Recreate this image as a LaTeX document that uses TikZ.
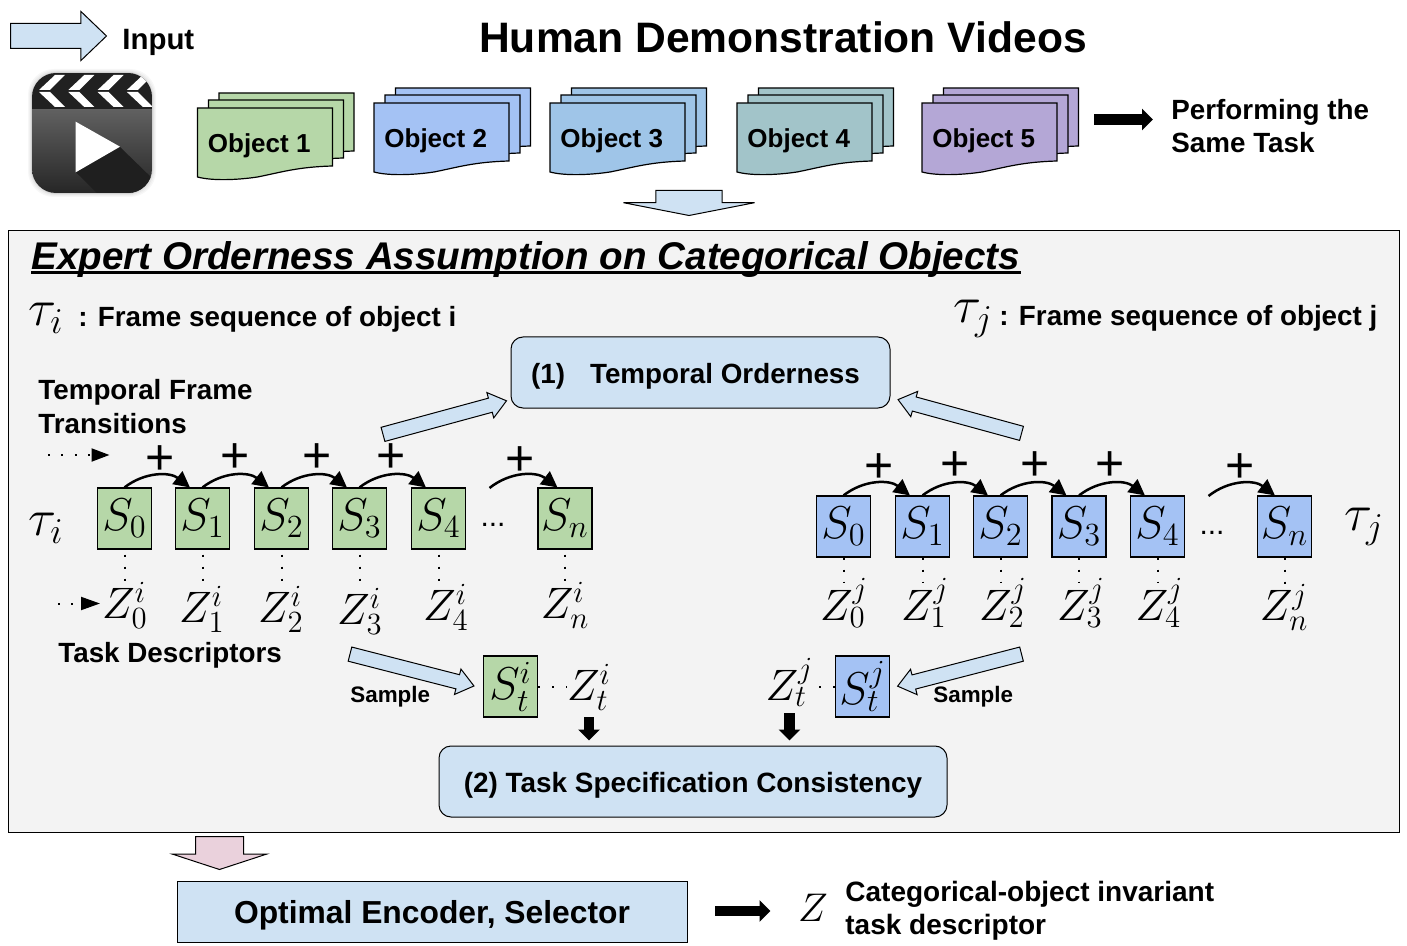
\documentclass[tikz,border=0pt]{standalone}
\usepackage{fix-cm}
\usepackage[no-math]{fontspec}
\setmainfont{Liberation Sans}
\usetikzlibrary{shapes.arrows, arrows.meta, positioning, calc}
\definecolor{objgreen}{RGB}{182, 215, 168}
\definecolor{objblue}{RGB}{164, 194, 244}
\definecolor{objsky}{RGB}{159, 197, 232}
\definecolor{objteal}{RGB}{162, 196, 201}
\definecolor{objpurple}{RGB}{180, 167, 214}
\definecolor{lightfill}{RGB}{207, 226, 243}
\definecolor{pinkfill}{RGB}{234, 209, 220}
\definecolor{panelgray}{RGB}{243, 243, 243}
\newcommand{\fs}[1]{\fontsize{#1}{#1}\selectfont}
\tikzset{
  label14/.style={font=\fs{13.9}\bfseries, inner sep=0pt, anchor=base west},
  blockarrow/.style n args={4}{single arrow, draw=black, line width=0.5pt, fill=lightfill,
    inner xsep=0pt, inner ysep=#1, single arrow head extend=#2, single arrow tip angle=#3,
    single arrow head indent=0pt, minimum height=#4, anchor=tail},
  fatarrow/.style={line width=5.4pt, -{Triangle[length=5.5pt,width=10.5pt]}},
  statebox/.style={draw=black, line width=0.55pt, minimum width=27pt, minimum height=30.5pt,
    inner sep=0pt, font=\fs{23}},
  descr/.style={font=\fs{22}, inner sep=0pt, anchor=base},
  taulabel/.style={font=\fs{26}, inner sep=0pt},
  dotlink/.style={line width=1pt, dash pattern=on 1pt off 5pt},
  transarc/.style={line width=1.25pt, -{Triangle[length=8pt,width=8pt]}, bend left=38},
  plussign/.style={font=\fs{25}, inner sep=0pt},
  sheet/.style={draw=black, line width=0.6pt},
  bigbox/.style={draw=black, line width=0.5pt, fill=lightfill, rounded corners=6pt, inner sep=0pt, text height=11pt, text depth=0pt, minimum height=35.5pt},
}
\begin{document}
\begin{tikzpicture}[x=0.5pt, y=-0.5pt]
  \useasboundingbox (0, 0) rectangle (1407, 946);

  % Input legend
  \node[blockarrow={6pt}{6pt}{87.6}{48pt}] (inputarrow) at (10, 36) {};
  \node[label14, font=\fs{14.7}\bfseries] (inputlabel) at (122, 50) {Input};
  \node[font=\fs{21.3}\bfseries, inner sep=0pt, anchor=base] (title) at (783, 53) {Human Demonstration Videos};

  % Video icon
  \foreach \d/\g in {4/3, 3/6, 2/10, 1/18} {
    \fill[black!\g, rounded corners=13pt] (32-\d, 73-\d) rectangle (152+\d, 193+\d);
  }
  \begin{scope}
    \clip[rounded corners=12pt] (32, 73) rectangle (152, 193);
    \shade[top color=black!62, bottom color=black!85] (32, 109) rectangle (152, 193);
    \fill[black!87] (32, 73) rectangle (152, 109);
    \foreach \dx in {0, 29.3, 58.6, 87.9} {
      \fill[white] (55+\dx, 75) -- (65+\dx, 75) -- (50+\dx, 90) -- (39+\dx, 90) -- cycle;
      \fill[white] (39+\dx, 92) -- (50+\dx, 92) -- (65+\dx, 107) -- (55+\dx, 107) -- cycle;
    }
    \fill[black!88] (120, 147) -- (156, 182) -- (156, 196) -- (100, 196) -- (75.7, 172) -- cycle;
  \end{scope}
  \fill[white] (75.7, 121.7) -- (120, 146.7) -- (75.7, 172.3) -- cycle;

  % Object stacks
  \foreach \n/\x/\y/\col in {1/197.5/108/objgreen, 2/374/103/objblue, 3/550/103/objsky, 4/737/103/objteal, 5/922/103/objpurple} {
    \foreach \dx/\dy in {21.5/-15, 11/-8, 0/0} {
      \begin{scope}[shift={(\x+\dx, \y+\dy)}]
        \draw[sheet, fill=\col] (0, 0) -- (135, 0) -- (135, 58) .. controls (100, 59) and (85, 64) .. (60, 69)
          .. controls (40, 72) and (15, 73) .. (0, 69) -- cycle;
      \end{scope}
    }
    \node[font=\fs{13}\bfseries, inner sep=0pt, anchor=base west] (object\n) at (\x+10, \y+45) {Object \n};
  }

  % Same task note
  \coordinate (samestart) at (1094, 119.5);
  \coordinate (sameend) at (1153, 119.5);
  \draw[fatarrow] (samestart) -- (sameend);
  \node[label14] (sametask1) at (1171, 120) {Performing the};
  \node[label14] (sametask2) at (1171, 153) {Same Task};
  \node[blockarrow={16.35pt}{16.15pt}{157.9}{12.5pt}, rotate=-90] (downarrow) at (689, 190) {};

  % Panel
  \draw[line width=0.5pt, fill=panelgray] (8.5, 231) rectangle (1399.5, 832);
  \node[font=\fs{19.3}\bfseries\itshape, inner sep=0pt, anchor=base west] (paneltitle) at (31, 270)
    {Expert Orderness Assumption on Categorical Objects};
  \draw[line width=1.5pt] ([yshift=-1.5pt]paneltitle.base west) -- ([yshift=-1.5pt]paneltitle.base east);
  \node[taulabel] (taui) at (46, 318) {$\tau_i$};
  \node[label14] (tauilabel) at (78, 327) {: Frame sequence of object i};
  \node[taulabel] (tauj) at (973, 319) {$\tau_j$};
  \node[label14] (taujlabel) at (999, 326) {: Frame sequence of object j};

  \node[bigbox, minimum width=189.5pt, font=\fs{13.9}\bfseries] (orderness) at (700.5, 372.5)
    {(1)\hspace*{12.5pt}Temporal Orderness\hspace*{5pt}};
  \node[bigbox, minimum width=254pt, font=\fs{13.95}\bfseries] (consistency) at (693, 781.5)
    {(2) Task Specification Consistency};

  \node[blockarrow={3.4pt}{2.9pt}{76}{64pt}, rotate=15.2] (orderleft) at (382.5, 434.5) {};
  \node[blockarrow={3.4pt}{2.9pt}{76}{64pt}, rotate=164.7] (orderright) at (1022, 433.5) {};

  \node[label14] (transitions1) at (38, 400) {Temporal Frame};
  \node[label14] (transitions2) at (38, 433) {Transitions};
  \coordinate (transstart) at (48, 455);
  \coordinate (transend) at (109.5, 455);
  \draw[line width=1pt, dash pattern=on 1pt off 5.7pt, -{Triangle[length=9pt,width=6.5pt]}] (transstart) -- (transend);
  \coordinate (descstart) at (58, 603.5);
  \coordinate (descend) at (100, 603.5);
  \draw[line width=1pt, dash pattern=on 1pt off 5.7pt, -{Triangle[length=9.5pt,width=6.5pt]}] (descstart) -- (descend);

  % Left sequence
  \node[taulabel] (rowi) at (46, 528) {$\tau_i$};
  \foreach \n/\x/\zx/\zy in {0/124.5/125/618, 1/202.5/202/622, 2/281.5/281/622, 3/359.5/360/624, 4/438.5/446/620, n/565/565/618} {
    \node[statebox, fill=objgreen] (si\n) at (\x, 518.5) {$S_\n$};
    \node[descr] (zi\n) at (\zx, \zy) {$Z_\n^i$};
    \draw[dotlink, shorten <=2.5pt] (si\n.south) -- (si\n.south |- zi\n.north);
  }
  \foreach \a/\b in {0/1, 1/2, 2/3, 3/4} {
    \draw[transarc] (si\a.north) to ([xshift=7.5pt]si\b.north west);
  }
  \coordinate (sidots) at (489.5, 488);
  \draw[transarc] (sidots) to ([xshift=10pt]sin.north west);
  \node[font=\fs{15}, inner sep=0pt, anchor=base] (dotsi) at (493, 526) {...};
  \foreach \n/\x/\y in {0/160/460, 1/235/458, 2/317/458, 3/391/458, 4/520/461} {
    \node[plussign] (plusi\n) at (\x, \y) {+};
  }

  % Right sequence
  \node[taulabel] (rowj) at (1364, 527) {$\tau_j$};
  \foreach \n/\x/\zx in {0/843.5/844, 1/922.5/925, 2/1000.5/1003, 3/1079/1081, 4/1157.5/1159.5, n/1284.5/1284} {
    \node[statebox, fill=objblue] (sj\n) at (\x, 526.5) {$S_\n$};
    \node[descr] (zj\n) at (\zx, 620) {$Z_\n^j$};
    \draw[dotlink] (sj\n.south) -- ([yshift=-2pt]sj\n.south |- zj\n.north);
  }
  \foreach \a/\b in {0/1, 1/2, 2/3, 3/4} {
    \draw[transarc] (sj\a.north) to ([xshift=7.5pt]sj\b.north west);
  }
  \coordinate (sjdots) at (1208.5, 496);
  \draw[transarc] (sjdots) to ([xshift=9pt]sjn.north west);
  \node[font=\fs{15}, inner sep=0pt, anchor=base] (dotsj) at (1212, 534) {...};
  \foreach \n/\x/\y in {0/879/468, 1/955/466, 2/1035/466, 3/1110/466, 4/1240/468} {
    \node[plussign] (plusj\n) at (\x, \y) {+};
  }

  % Sampling
  \node[label14] (taskdesc) at (58, 662) {Task Descriptors};
  \node[blockarrow={3.4pt}{2.9pt}{76}{64pt}, rotate=-14.4] (sampleleft) at (349.5, 654) {};
  \node[blockarrow={3.4pt}{2.9pt}{76}{64pt}, rotate=194.5] (sampleright) at (1022, 654) {};
  \node[font=\fs{11.2}\bfseries, inner sep=0pt, anchor=base west] (samplei) at (350, 702) {Sample};
  \node[font=\fs{11.2}\bfseries, inner sep=0pt, anchor=base west] (samplej) at (933, 702) {Sample};
  \node[statebox, fill=objgreen] (sti) at (510.5, 686.5) {$S_t^i$};
  \node[statebox, fill=objblue] (stj) at (862.5, 686.5) {$S_t^j$};
  \node[descr] (zti) at (589, 700) {$Z_t^i$};
  \node[descr] (ztj) at (789.5, 700) {$Z_t^j$};
  \draw[dotlink, dash pattern=on 1pt off 6pt] (sti.east) -- (sti.east -| zti.west);
  \draw[dotlink, dash pattern=on 1pt off 6pt] (stj.west) -- (stj.west -| ztj.east);
  \draw[fatarrow, shorten <=3pt, shorten >=2.5pt] (zti.south) -- (zti.south |- consistency.north);
  \draw[fatarrow, shorten <=3pt, shorten >=2.5pt] (ztj.south) -- (ztj.south |- consistency.north);

  % Output
  \node[blockarrow={11.75pt}{11.5pt}{143.8}{16.5pt}, rotate=-90, fill=pinkfill] (pinkarrow) at (219.5, 836) {};
  \node[draw=black, line width=0.5pt, fill=lightfill, minimum width=255pt, minimum height=30.5pt, inner sep=0pt, text depth=0pt, font=\fs{15.9}\bfseries] (encoder) at (432, 911.5)
    {Optimal Encoder, Selector};
  \coordinate (outputstart) at (715, 911);
  \coordinate (outputend) at (770.5, 911);
  \draw[fatarrow] (outputstart) -- (outputend);
  \node[font=\fs{20}, inner sep=0pt, anchor=base] (zfinal) at (813, 921) {$Z$};
  \node[font=\fs{14}\bfseries, inner sep=0pt, anchor=base west] (zlabel1) at (845, 901) {Categorical-object invariant};
  \node[font=\fs{14}\bfseries, inner sep=0pt, anchor=base west] (zlabel2) at (845, 934) {task descriptor};
\end{tikzpicture}
\end{document}
